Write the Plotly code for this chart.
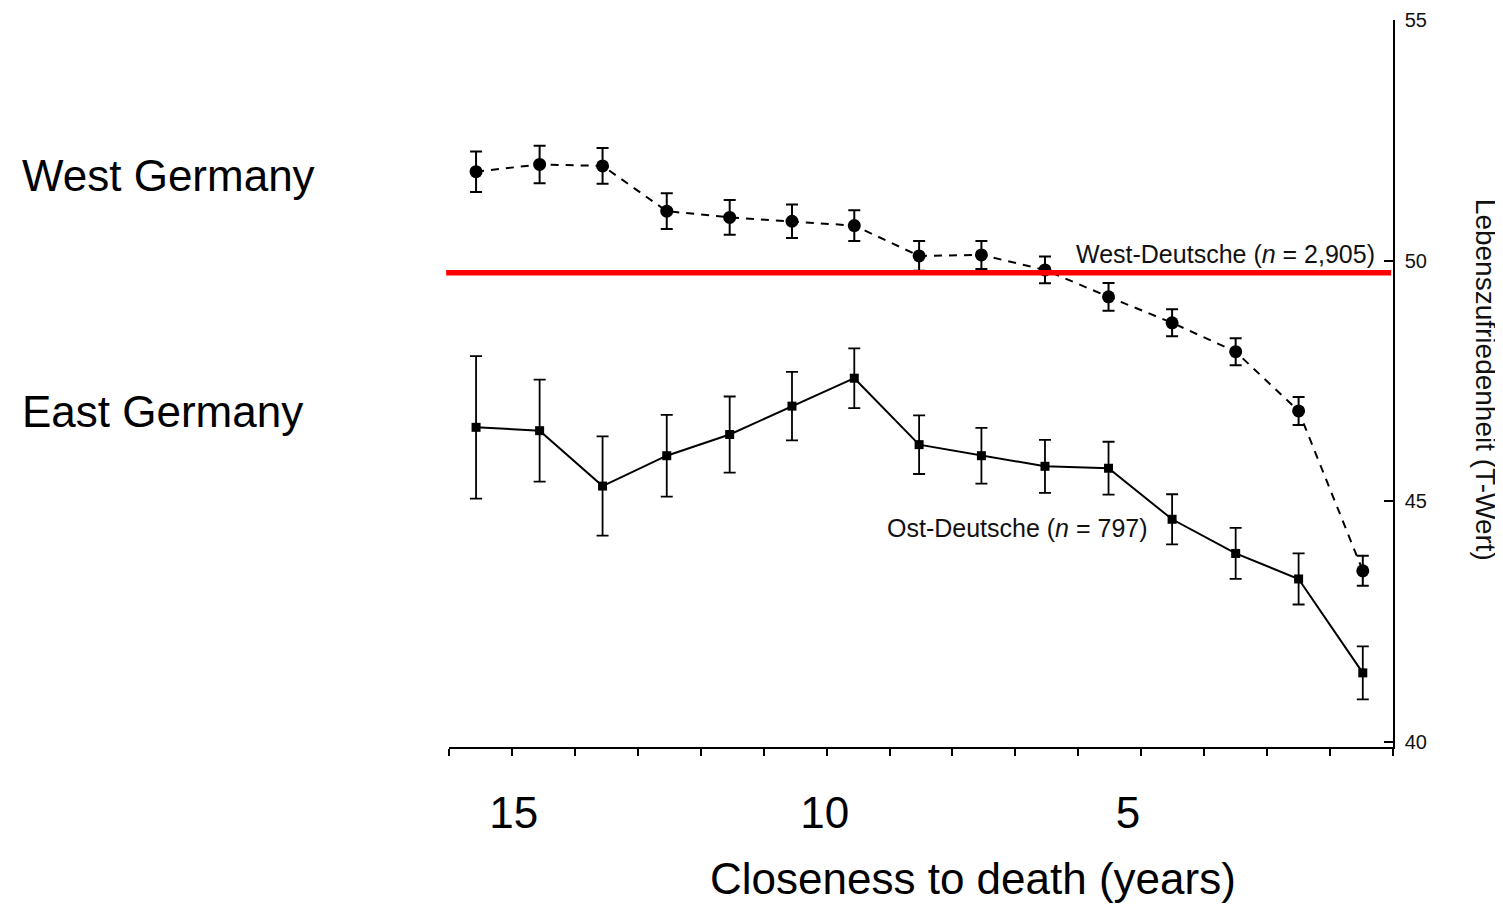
import plotly.graph_objects as go

# ---- data ----
years_before_death = [15.57, 14.56, 13.56, 12.54, 11.54, 10.55, 9.56, 8.53,
                      7.54, 6.53, 5.52, 4.51, 3.50, 2.50, 1.48]

west_mean = [51.85, 52.00, 51.97, 51.03, 50.90, 50.82, 50.73, 50.10,
             50.12, 49.81, 49.25, 48.71, 48.11, 46.88, 43.56]
west_err = [0.42, 0.39, 0.37, 0.37, 0.36, 0.35, 0.32, 0.31,
            0.29, 0.28, 0.29, 0.28, 0.28, 0.29, 0.31]

east_mean = [46.54, 46.47, 45.32, 45.95, 46.39, 46.98, 47.56, 46.18,
             45.95, 45.73, 45.69, 44.63, 43.92, 43.39, 41.44]
east_err = [1.48, 1.06, 1.03, 0.85, 0.79, 0.71, 0.62, 0.61,
            0.58, 0.55, 0.55, 0.52, 0.53, 0.53, 0.55]

x_tick_vals = [14.97, 10.03, 5.21]
x_tick_text = ["15", "10", "5"]
y_tick_vals = [40, 45, 50, 55]
reference_line_value = 49.75

west_label = "West-Deutsche (<i>n</i> = 2,905)"
east_label = "Ost-Deutsche (<i>n</i> = 797)"

FONT = "Liberation Sans, Arial, Helvetica, sans-serif"

fig = go.Figure()

fig.add_trace(go.Scatter(
    x=years_before_death, y=west_mean, mode="lines+markers",
    line=dict(color="black", width=2, dash="8px,7px"),
    marker=dict(symbol="circle", size=13, color="black"),
    error_y=dict(type="data", array=west_err, color="black", thickness=2, width=6),
    showlegend=False, name="West-Deutsche",
))

fig.add_trace(go.Scatter(
    x=years_before_death, y=east_mean, mode="lines+markers",
    line=dict(color="black", width=2),
    marker=dict(symbol="square", size=9, color="black"),
    error_y=dict(type="data", array=east_err, color="black", thickness=1.8, width=6),
    showlegend=False, name="Ost-Deutsche",
))

# red reference line
fig.add_shape(type="line", xref="paper", yref="y",
              x0=-0.003, x1=0.998, y0=reference_line_value, y1=reference_line_value,
              line=dict(color="#ff0000", width=5.5), layer="above")

anns = [
    dict(text="West Germany", x=-0.4545, y=0.786, xanchor="left", yanchor="middle",
         font=dict(size=44, color="black", family=FONT)),
    dict(text="East Germany", x=-0.4545, y=0.462, xanchor="left", yanchor="middle",
         font=dict(size=44, color="black", family=FONT)),
    dict(text="Closeness to death (years)", x=0.555, y=-0.181, xanchor="center", yanchor="middle",
         font=dict(size=44, color="black", family=FONT)),
    dict(text=west_label, x=0.983, y=0.678, xanchor="right", yanchor="middle",
         font=dict(size=25, color="#111111", family=FONT)),
    dict(text=east_label, x=0.7426, y=0.301, xanchor="right", yanchor="middle",
         font=dict(size=25, color="#111111", family=FONT)),
    dict(text="Lebenszufriedenheit (T-Wert)", x=1.0975, y=0.505, textangle=90,
         xanchor="center", yanchor="middle",
         font=dict(size=28, color="#111111", family=FONT)),
]
for a in anns:
    a.update(xref="paper", yref="paper", showarrow=False)
fig.update_layout(annotations=anns)

fig.update_layout(
    width=1495, height=910,
    margin=dict(l=441, r=110, t=12, b=171, autoexpand=False),
    paper_bgcolor="white", plot_bgcolor="white",
    showlegend=False,
    xaxis=dict(
        range=[16, 1], showgrid=False, zeroline=False, automargin=False,
        showline=True, linecolor="black", linewidth=2,
        tickmode="array", tickvals=x_tick_vals, ticktext=x_tick_text,
        ticks="", ticklen=0, ticklabelstandoff=26,
        tickfont=dict(size=44, color="black", family=FONT),
        minor=dict(ticks="outside", ticklen=7, tickwidth=1.5, tickcolor="black",
                   dtick=1, tick0=0, showgrid=False),
    ),
    yaxis=dict(
        range=[39.9, 55], side="right", showgrid=False, zeroline=False, automargin=False,
        showline=True, linecolor="black", linewidth=1.5,
        tickmode="array", tickvals=y_tick_vals,
        ticks="inside", ticklen=9, tickwidth=1.5, tickcolor="black",
        tickfont=dict(size=20, color="#111111", family=FONT),
        ticklabelstandoff=6,
    ),
)

fig.write_html("out.html")
